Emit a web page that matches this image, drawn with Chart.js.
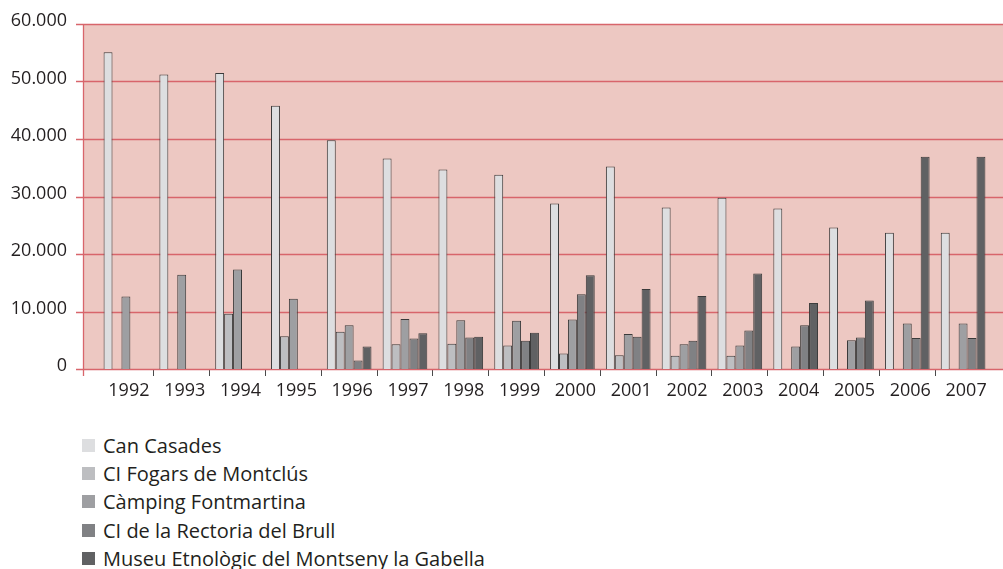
<!DOCTYPE html>
<html>
<head>
<meta charset="utf-8">
<title>Visitants</title>
<script src="https://cdn.jsdelivr.net/npm/chart.js@4.4.0/dist/chart.umd.min.js"></script>
<style>
    html, body { margin: 0; padding: 0; background: #fff; }
    #wrap { position: relative; width: 1003px; height: 569px; }
    #chartBox { position: absolute; left: 0; top: 0; width: 1003px; height: 410px; }
    #legend {
        position: absolute; left: 82px; top: 431px;
        font-family: 'Open Sans', sans-serif; font-size: 20px; color: #231f20;
    }
    .legend-item { height: 28.4px; display: flex; align-items: center; white-space: nowrap; }
    .legend-box { width: 13px; height: 13px; margin-right: 8px; }
</style>
</head>
<body>
<div id="wrap">
    <div id="chartBox"><canvas id="visitorsChart"></canvas></div>
    <div id="legend"></div>
</div>
<script>
const years = ['1992', '1993', '1994', '1995', '1996', '1997', '1998', '1999',
               '2000', '2001', '2002', '2003', '2004', '2005', '2006', '2007'];

const canCasades = [55100, 51200, 51500, 45800, 39800, 36600, 34700, 33800,
                    28800, 35200, 28100, 29800, 27900, 24600, 23700, 23700];
const fogarsMontclus = [null, null, 9600, 5700, 6500, 4300, 4400, 4100,
                        2700, 2400, 2300, 2300, null, null, null, null];
const campingFontmartina = [12600, 16400, 17300, 12200, 7600, 8700, 8500, 8400,
                            8600, 6100, 4300, 4100, 3900, 5000, 7900, 7900];
const rectoriaBrull = [null, null, null, null, 1500, 5300, 5500, 4900,
                       13000, 5600, 4900, 6700, 7600, 5500, 5400, 5400];
const museuGabella = [null, null, null, null, 3900, 6200, 5600, 6300,
                      16300, 13900, 12700, 16600, 11500, 11900, 36900, 36900];

const yTicks = [0, 10000, 20000, 30000, 40000, 50000, 60000];

const seriesNames = ['Can Casades', 'CI Fogars de Montclús', 'Càmping Fontmartina',
                     'CI de la Rectoria del Brull', 'Museu Etnològic del Montseny la Gabella'];
const seriesColors = ['#dddee0', '#bdbec1', '#9e9fa2', '#808184', '#606163'];

const PLOT_BG = '#edc8c2';
const GRID_RED = '#d8656b';

// fons rosa i línies de la graella, que surten fora de l'àrea del gràfic
const plotBackground = {
    id: 'plotBackground',
    beforeDatasetsDraw(chart) {
        const { ctx, chartArea, scales } = chart;
        const y = scales.y;
        const left = chartArea.left - 15;
        const right = chart.width;

        ctx.save();
        ctx.fillStyle = PLOT_BG;
        ctx.fillRect(left, chartArea.top, right - left, chartArea.bottom - chartArea.top);

        ctx.strokeStyle = GRID_RED;
        ctx.lineWidth = 1.3;
        y.ticks.forEach(t => {
            const py = Math.round(y.getPixelForValue(t.value)) + 0.5;
            ctx.beginPath();
            ctx.moveTo(left - 7, py);
            ctx.lineTo(right, py);
            ctx.stroke();
        });

        ctx.beginPath();
        ctx.moveTo(left + 0.5, chartArea.top);
        ctx.lineTo(left + 0.5, chartArea.bottom + 7);
        ctx.stroke();
        ctx.restore();
    }
};

function buildDatasets() {
    const values = [canCasades, fogarsMontclus, campingFontmartina, rectoriaBrull, museuGabella];
    return values.map((data, i) => ({
        label: seriesNames[i],
        data: data,
        backgroundColor: seriesColors[i],
        borderColor: '#3a3a3a',
        borderWidth: 1,
        barPercentage: 1,
        categoryPercentage: 0.8
    }));
}

function renderLegend(chart) {
    const container = document.getElementById('legend');
    container.innerHTML = '';
    chart.data.datasets.forEach(ds => {
        const div = document.createElement('div');
        div.className = 'legend-item';
        div.innerHTML = `<span class="legend-box" style="background:${ds.backgroundColor}"></span><span>${ds.label}</span>`;
        container.appendChild(div);
    });
}

const ctx = document.getElementById('visitorsChart').getContext('2d');
const visitorsChart = new Chart(ctx, {
    type: 'bar',
    data: {
        labels: years,
        datasets: buildDatasets()
    },
    options: {
        responsive: true,
        maintainAspectRatio: false,
        animation: false,
        layout: { padding: { top: 24, right: 12, left: 0, bottom: 0 } },
        plugins: {
            legend: { display: false },
            tooltip: { enabled: false }
        },
        scales: {
            x: {
                grid: {
                    offset: true,
                    drawOnChartArea: false,
                    drawTicks: true,
                    tickLength: 7,
                    color: c => (c.type !== 'tick' || c.index === 0) ? 'rgba(0,0,0,0)' : '#4a4a4a'
                },
                border: { display: false },
                ticks: {
                    color: '#231f20',
                    padding: 4,
                    labelOffset: 3,
                    font: { family: "'Open Sans', sans-serif", size: 18 }
                },
                afterFit: scale => {
                    scale.height = 41;
                    scale.paddingLeft = 0;
                    scale.paddingRight = 0;
                }
            },
            y: {
                min: 0,
                max: 60000,
                afterBuildTicks: scale => { scale.ticks = yTicks.map(v => ({ value: v })); },
                grid: { display: false, drawTicks: false },
                border: { display: false },
                ticks: {
                    color: '#231f20',
                    padding: 31,
                    labelOffset: -3,
                    font: { family: "'Open Sans', sans-serif", size: 18 },
                    callback: v => v.toLocaleString('de-DE')
                },
                afterFit: scale => {
                    scale.width = 98;
                    scale.paddingTop = 0;
                    scale.paddingBottom = 0;
                }
            }
        }
    },
    plugins: [plotBackground]
});

renderLegend(visitorsChart);
</script>
</body>
</html>
